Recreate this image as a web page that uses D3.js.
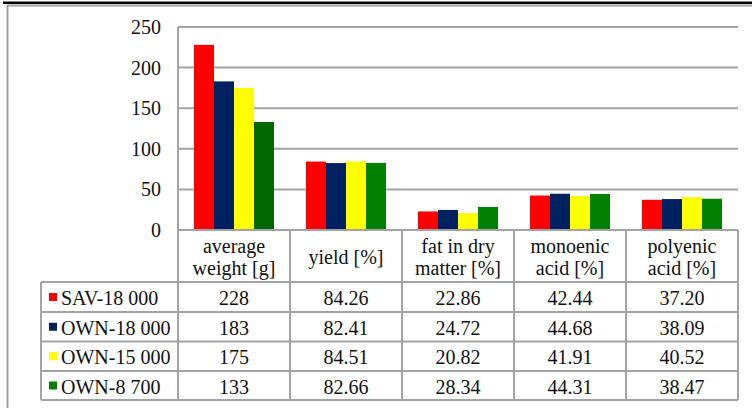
<!DOCTYPE html>
<html>
<head>
<meta charset="utf-8">
<script src="https://cdn.jsdelivr.net/npm/d3@7"></script>
<style>
  body { margin: 0; background: #fff; }
</style>
</head>
<body>
<svg id="chart"></svg>
<script>
// categories (header row, split into lines)
const categories = ["average weight [g]", "yield [%]", "fat in dry matter [%]", "monoenic acid [%]", "polyenic acid [%]"];
const categoryLines = [["average", "weight [g]"], ["yield [%]"], ["fat in dry", "matter [%]"], ["monoenic", "acid [%]"], ["polyenic", "acid [%]"]];

const seriesNames = ["SAV-18 000", "OWN-18 000", "OWN-15 000", "OWN-8 700"];
const sav18000 = [228, 84.26, 22.86, 42.44, 37.20];
const own18000 = [183, 82.41, 24.72, 44.68, 38.09];
const own15000 = [175, 84.51, 20.82, 41.91, 40.52];
const own8700 = [133, 82.66, 28.34, 44.31, 38.47];
const seriesValues = [sav18000, own18000, own15000, own8700];

const yTicks = [0, 50, 100, 150, 200, 250];

const seriesColors = ["#ff0000", "#002060", "#ffff00", "#008000"];
// first green bar is drawn a shade darker in the original
const pointColor = (s, c) => (s === 3 && c === 0) ? "#006600" : seriesColors[s];

const W = 752, H = 408;
const grid = "#a3a3a3";
const fontSize = 20;
const fontFamily = "'Liberation Serif', monospace";

const svg = d3.select("#chart").attr("width", W).attr("height", H);

const label = (sel) => sel.attr("font-family", fontFamily).attr("font-size", fontSize).attr("fill", "#111");

// frame: black rule on top, grey border of chart area
svg.append("rect").attr("x", 3).attr("y", 1.5).attr("width", W - 3).attr("height", 2.5).attr("fill", "#000");
svg.append("path").attr("d", `M7.5,${H} V5.5 H${W}`).attr("fill", "none").attr("stroke", "#a0a0a0").attr("stroke-width", 2);

const plotLeft = 178, plotRight = 738, plotTop = 27, zero = 230;
const x = d3.scaleBand().domain(categories).range([plotLeft, plotRight]).paddingInner(0).paddingOuter(0);
const xs = d3.scaleBand().domain(seriesNames).range([0, x.bandwidth()]).paddingInner(0).paddingOuter(0.8);
const y = d3.scaleLinear().domain([0, 250]).range([zero, plotTop]);

// gridlines
svg.append("g").selectAll("line").data(yTicks.filter(d => d > 0)).join("line")
  .attr("x1", plotLeft).attr("x2", plotRight)
  .attr("y1", d => y(d)).attr("y2", d => y(d))
  .attr("stroke", grid).attr("stroke-width", 2);

// y tick labels
svg.append("g").selectAll("text").data(yTicks).join("text")
  .attr("x", 161).attr("y", d => y(d)).attr("dy", "0.35em")
  .attr("text-anchor", "end")
  .call(label)
  .text(d => d);

// bars
seriesValues.forEach((vals, s) => {
  svg.append("g").selectAll("rect").data(vals).join("rect")
    .attr("x", (d, i) => x(categories[i]) + xs(seriesNames[s]))
    .attr("width", xs.bandwidth())
    .attr("y", d => y(d))
    .attr("height", d => y(0) - y(d))
    .attr("fill", (d, i) => pointColor(s, i));
});

// data table
const headerBottom = 282;
const rowEdges = [282, 312, 341.5, 371, 400];
const legLeft = 41;
const t = svg.append("g").attr("stroke", grid).attr("stroke-width", 2).attr("fill", "none");
t.append("line").attr("x1", plotLeft).attr("x2", plotRight).attr("y1", zero).attr("y2", zero);
t.append("line").attr("x1", plotLeft).attr("x2", plotLeft).attr("y1", plotTop).attr("y2", rowEdges[4]);
categories.slice(1).map(c => x(c)).concat([plotRight]).forEach(xx => {
  t.append("line").attr("x1", xx).attr("x2", xx).attr("y1", zero).attr("y2", rowEdges[4]);
});
rowEdges.forEach(ry => {
  t.append("line").attr("x1", legLeft).attr("x2", plotRight).attr("y1", ry).attr("y2", ry);
});
t.append("line").attr("x1", legLeft).attr("x2", legLeft).attr("y1", headerBottom).attr("y2", rowEdges[4]);

// header text
categories.forEach((c, i) => {
  const lines = categoryLines[i];
  const cx = x(c) + x.bandwidth() / 2;
  const mid = (zero + headerBottom) / 2 + 1;
  lines.forEach((ln, j) => {
    svg.append("text")
      .attr("x", cx)
      .attr("y", mid + (j - (lines.length - 1) / 2) * 22)
      .attr("dy", "0.35em")
      .attr("text-anchor", "middle")
      .call(label)
      .text(ln);
  });
});

// rows: legend key + values
seriesNames.forEach((name, s) => {
  const cy = (rowEdges[s] + rowEdges[s + 1]) / 2;
  svg.append("rect").attr("x", 49).attr("y", cy - 4).attr("width", 8).attr("height", 8).attr("fill", seriesColors[s]);
  svg.append("text").attr("x", 61).attr("y", cy + 1).attr("dy", "0.35em").call(label).text(name);
  seriesValues[s].forEach((v, i) => {
    svg.append("text")
      .attr("x", x(categories[i]) + x.bandwidth() / 2)
      .attr("y", cy + 1).attr("dy", "0.35em")
      .attr("text-anchor", "middle")
      .call(label)
      .text(i === 0 ? d3.format("d")(v) : d3.format(".2f")(v));
  });
});
</script>
</body>
</html>
